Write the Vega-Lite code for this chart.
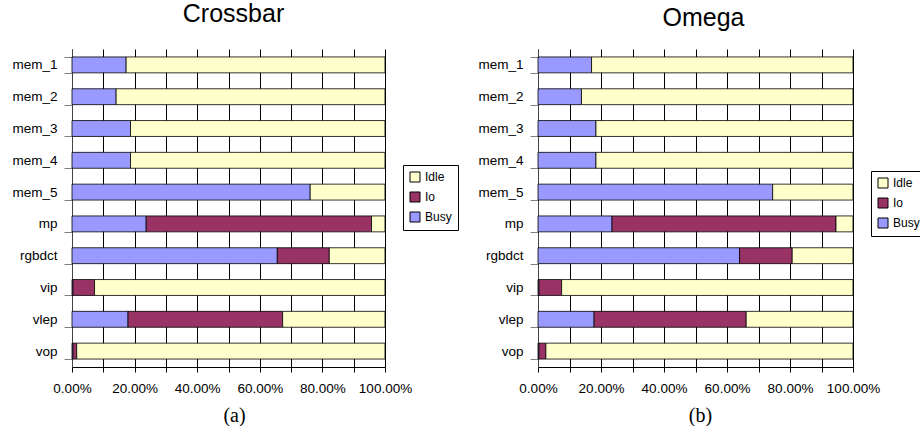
{
  "$schema": "https://vega.github.io/schema/vega-lite/v6.json",
  "background": "white",
  "padding": {"left": 11, "top": 2, "right": 0, "bottom": 0},
  "datasets": {
    "crossbar": [
      {"task": "mem_1", "status": "Busy", "pct": 17.3},
      {"task": "mem_1", "status": "Idle", "pct": 82.7},
      {"task": "mem_2", "status": "Busy", "pct": 14.1},
      {"task": "mem_2", "status": "Idle", "pct": 85.9},
      {"task": "mem_3", "status": "Busy", "pct": 18.7},
      {"task": "mem_3", "status": "Idle", "pct": 81.3},
      {"task": "mem_4", "status": "Busy", "pct": 18.7},
      {"task": "mem_4", "status": "Idle", "pct": 81.3},
      {"task": "mem_5", "status": "Busy", "pct": 76.1},
      {"task": "mem_5", "status": "Idle", "pct": 23.9},
      {"task": "mp", "status": "Busy", "pct": 23.7},
      {"task": "mp", "status": "Io", "pct": 72.0},
      {"task": "mp", "status": "Idle", "pct": 4.3},
      {"task": "rgbdct", "status": "Busy", "pct": 65.6},
      {"task": "rgbdct", "status": "Io", "pct": 16.6},
      {"task": "rgbdct", "status": "Idle", "pct": 17.8},
      {"task": "vip", "status": "Busy", "pct": 0.3},
      {"task": "vip", "status": "Io", "pct": 6.9},
      {"task": "vip", "status": "Idle", "pct": 92.8},
      {"task": "vlep", "status": "Busy", "pct": 17.9},
      {"task": "vlep", "status": "Io", "pct": 49.4},
      {"task": "vlep", "status": "Idle", "pct": 32.7},
      {"task": "vop", "status": "Busy", "pct": 0.3},
      {"task": "vop", "status": "Io", "pct": 1.2},
      {"task": "vop", "status": "Idle", "pct": 98.5}
    ],
    "omega": [
      {"task": "mem_1", "status": "Busy", "pct": 17.0},
      {"task": "mem_1", "status": "Idle", "pct": 83.0},
      {"task": "mem_2", "status": "Busy", "pct": 13.8},
      {"task": "mem_2", "status": "Idle", "pct": 86.2},
      {"task": "mem_3", "status": "Busy", "pct": 18.4},
      {"task": "mem_3", "status": "Idle", "pct": 81.6},
      {"task": "mem_4", "status": "Busy", "pct": 18.4},
      {"task": "mem_4", "status": "Idle", "pct": 81.6},
      {"task": "mem_5", "status": "Busy", "pct": 74.5},
      {"task": "mem_5", "status": "Idle", "pct": 25.5},
      {"task": "mp", "status": "Busy", "pct": 23.5},
      {"task": "mp", "status": "Io", "pct": 71.1},
      {"task": "mp", "status": "Idle", "pct": 5.4},
      {"task": "rgbdct", "status": "Busy", "pct": 64.0},
      {"task": "rgbdct", "status": "Io", "pct": 16.7},
      {"task": "rgbdct", "status": "Idle", "pct": 19.3},
      {"task": "vip", "status": "Busy", "pct": 0.3},
      {"task": "vip", "status": "Io", "pct": 7.2},
      {"task": "vip", "status": "Idle", "pct": 92.5},
      {"task": "vlep", "status": "Busy", "pct": 17.8},
      {"task": "vlep", "status": "Io", "pct": 48.3},
      {"task": "vlep", "status": "Idle", "pct": 33.9},
      {"task": "vop", "status": "Busy", "pct": 0.3},
      {"task": "vop", "status": "Io", "pct": 2.2},
      {"task": "vop", "status": "Idle", "pct": 97.5}
    ]
  },
  "config": {
    "font": "Liberation Sans",
    "view": {"stroke": null},
    "title": {"font": "Liberation Sans", "fontSize": 25, "fontWeight": "normal", "color": "#000", "baseline": "alphabetic", "anchor": "middle"},
    "axisX": {
      "grid": true, "gridColor": "#000", "gridOpacity": 1, "gridWidth": 1,
      "tickColor": "#000", "tickSize": 5, "domainColor": "#000",
      "labelFontSize": 13.5, "labelColor": "#000", "labelPadding": 9,
      "labelFlush": false, "labelOverlap": false,
      "titleFont": "Liberation Serif", "titleFontSize": 20, "titleFontWeight": "normal", "titleColor": "#000", "titlePadding": 11
    },
    "axisY": {
      "grid": false, "tickBand": "extent", "tickSize": 8, "tickColor": "#808080",
      "domainColor": "#444", "labelFontSize": 13.5, "labelColor": "#000", "labelPadding": 7
    },
    "legend": {
      "title": null, "orient": "none", "strokeColor": "#000", "fillColor": "#fff", "padding": 6,
      "symbolType": "square", "symbolSize": 100, "symbolStrokeColor": "#000", "symbolStrokeWidth": 1,
      "labelFontSize": 12, "labelColor": "#000", "rowPadding": 6, "labelOffset": 4, "cornerRadius": 0
    }
  },
  "spacing": 18,
  "resolve": {"scale": {"color": "independent"}},
  "hconcat": [
    {
      "title": {"text": "Crossbar", "offset": 15, "dx": 5},
      "width": 313,
      "height": 318,
      "data": {"name": "crossbar"},
      "mark": {"type": "bar", "stroke": "#000", "strokeWidth": 0.8},
      "encoding": {
        "y": {"field": "task", "type": "nominal", "sort": ["mem_1","mem_2","mem_3","mem_4","mem_5","mp","rgbdct","vip","vlep","vop"],
              "scale": {"paddingInner": 0.5, "paddingOuter": 0.25}, "axis": {"title": null}},
        "x": {"field": "pct", "type": "quantitative", "stack": "normalize", "scale": {"domain": [0, 1]},
              "axis": {"title": "(a)", "titleX": 162, "values": [0,0.1,0.2,0.3,0.4,0.5,0.6,0.7,0.8,0.9,1],
                       "labelExpr": "round(datum.value*10) % 2 == 0 ? format(datum.value, '.2%') : ''"}},
        "order": {"field": "task", "type": "nominal"},
        "color": {"field": "status", "type": "nominal",
                  "scale": {"domain": ["Idle","Io","Busy"], "range": ["#FFFFCC","#993366","#9999FF"]},
                  "legend": {"legendX": 331, "legendY": 116}}
      }
    },
    {
      "title": {"text": "Omega", "offset": 11, "dx": 8},
      "width": 315,
      "height": 318,
      "data": {"name": "omega"},
      "mark": {"type": "bar", "stroke": "#000", "strokeWidth": 0.8},
      "encoding": {
        "y": {"field": "task", "type": "nominal", "sort": ["mem_1","mem_2","mem_3","mem_4","mem_5","mp","rgbdct","vip","vlep","vop"],
              "scale": {"paddingInner": 0.5, "paddingOuter": 0.25}, "axis": {"title": null}},
        "x": {"field": "pct", "type": "quantitative", "stack": "normalize", "scale": {"domain": [0, 1]},
              "axis": {"title": "(b)", "titleX": 162, "values": [0,0.1,0.2,0.3,0.4,0.5,0.6,0.7,0.8,0.9,1],
                       "labelExpr": "round(datum.value*10) % 2 == 0 ? format(datum.value, '.2%') : ''"}},
        "order": {"field": "task", "type": "nominal"},
        "color": {"field": "status", "type": "nominal",
                  "scale": {"domain": ["Idle","Io","Busy"], "range": ["#FFFFCC","#993366","#9999FF"]},
                  "legend": {"legendX": 333, "legendY": 122}}
      }
    }
  ]
}
